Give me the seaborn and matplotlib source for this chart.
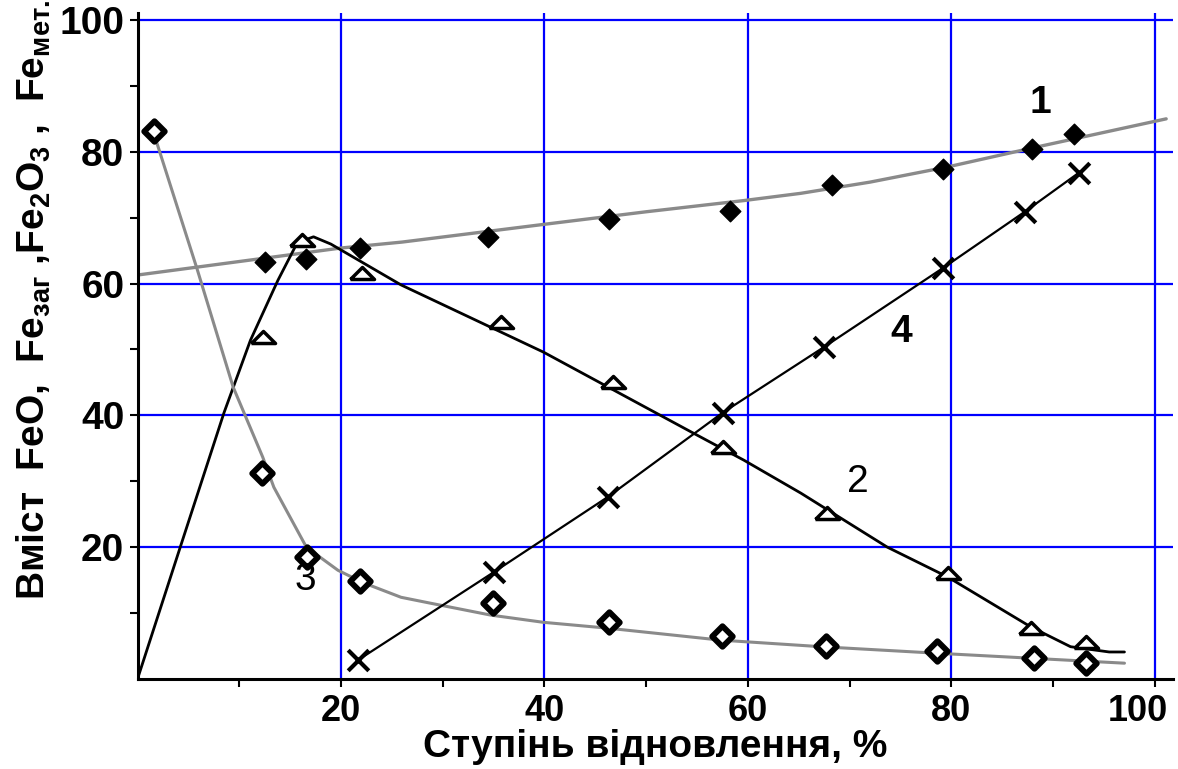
import matplotlib
matplotlib.use("Agg")
import matplotlib.pyplot as plt
import matplotlib.transforms as mtransforms
import seaborn as sns

# Curve 1 - Fe (filled diamonds, grey line)
pts1_x = [12.5, 16.6, 21.9, 34.4, 46.3, 58.2, 68.3, 79.2, 87.9, 92.0]
pts1_y = [63.3, 63.7, 65.4, 67.1, 69.8, 71.0, 75.0, 77.4, 80.4, 82.7]
line1_x = [0, 20, 26, 40, 50, 59.6, 65.2, 72, 79.6, 88, 101.1]
line1_y = [61.3, 65.4, 66.3, 69.0, 70.9, 72.6, 73.7, 75.4, 77.7, 80.6, 85.0]

# Curve 2 - FeO (open triangles, black line)
pts2_x = [12.3, 16.2, 22.1, 35.7, 46.7, 57.5, 67.8, 79.7, 87.8, 93.2]
pts2_y = [51.9, 66.6, 61.6, 54.2, 45.1, 35.2, 25.2, 16.1, 7.7, 5.6]
line2_x = [0, 4.2, 8.5, 11.1, 13.8, 15.7, 17.3, 19, 25.9, 39.9, 54.4, 59.6, 65.2, 73.7, 79.6, 87.8, 91.7, 95.5, 97]
line2_y = [0, 20, 40.4, 51.4, 60.5, 66.2, 67.1, 66.0, 59.8, 49.6, 37.5, 33.2, 28.2, 20, 15.5, 7.9, 4.9, 4.1, 4.1]

# Curve 3 - Fe2O3 (open diamonds, grey line)
pts3_x = [1.6, 12.2, 16.7, 21.9, 34.9, 46.3, 57.4, 67.7, 78.6, 88.1, 93.2]
pts3_y = [83.2, 31.3, 18.5, 14.9, 11.5, 8.6, 6.5, 5.0, 4.3, 3.2, 2.4]
line3_x = [1.5, 5.9, 9.4, 12.3, 13.4, 16.6, 19.7, 22.2, 25.9, 28.8, 34.7, 39.9, 46.3, 57.3, 67.2, 78.7, 97]
line3_y = [83.3, 62, 44.3, 33.7, 29.1, 20, 16.5, 14.6, 12.4, 11.5, 9.7, 8.6, 7.7, 5.9, 4.9, 3.9, 2.4]

# Curve 4 - Fe met. (crosses, black line)
pts4_x = [21.7, 35.0, 46.2, 57.5, 67.5, 79.2, 87.2, 92.5]
pts4_y = [2.9, 16.2, 27.6, 40.4, 50.4, 62.4, 70.9, 76.8]

curve_labels = ["1", "2", "3", "4"]
label_x = [88.7, 70.8, 16.5, 75.1]
label_y = [87.4, 29.9, 15.0, 52.7]
label_weight = ["bold", "normal", "normal", "bold"]

ticks = [20, 40, 60, 80, 100]
minor_ticks = [10, 30, 50, 70, 90]

sns.set_theme(style="white")
plt.rcParams["font.family"] = ["Liberation Sans", "DejaVu Sans"]
plt.rcParams["mathtext.fontset"] = "custom"
plt.rcParams["mathtext.rm"] = "Liberation Sans:bold"
plt.rcParams["mathtext.it"] = "Liberation Sans:bold"
plt.rcParams["mathtext.bf"] = "Liberation Sans:bold"

fig = plt.figure(figsize=(11.78, 7.69), dpi=100)
ax = fig.add_axes([137.5 / 1178, 90 / 769, 1035.8 / 1178, 665.6 / 769])

# lines
sns.lineplot(x=line1_x, y=line1_y, color="#8a8a8a", lw=2.4, sort=False, estimator=None, ax=ax)
sns.lineplot(x=line2_x, y=line2_y, color="black", lw=2.0, sort=False, estimator=None, ax=ax)
sns.lineplot(x=line3_x, y=line3_y, color="#8a8a8a", lw=2.2, sort=False, estimator=None, ax=ax)
sns.lineplot(x=pts4_x, y=pts4_y, color="black", lw=1.6, sort=False, estimator=None, ax=ax)

# markers
sns.scatterplot(x=pts1_x, y=pts1_y, marker="D", s=110, color="black",
                edgecolor="black", linewidth=1, zorder=4, ax=ax)
tri = [(-1, -0.5), (1, -0.5), (0, 0.5), (-1, -0.5)]
sns.scatterplot(x=pts2_x, y=pts2_y, marker=tri, s=300, facecolor="white",
                edgecolor="black", linewidth=2.5, zorder=4, ax=ax)
sns.scatterplot(x=pts3_x, y=pts3_y, marker="D", s=110, facecolor="white",
                edgecolor="black", linewidth=4.2, zorder=4, ax=ax)
sns.scatterplot(x=pts4_x, y=pts4_y, marker="x", s=220, color="black",
                linewidth=3, zorder=4, ax=ax)

for t, x, y, w in zip(curve_labels, label_x, label_y, label_weight):
    ax.text(x, y, t, fontsize=28, fontweight=w, ha="center", va="center",
            color="black", zorder=5)

ax.set_xlim(0, 101.8)
ax.set_ylim(0, 101)
ax.set_xticks(ticks)
ax.set_yticks(ticks)
ax.set_xticks(minor_ticks, minor=True)
ax.set_yticks(minor_ticks, minor=True)
ax.grid(True, which="major", color="#0000ff", lw=1.6)
ax.set_axisbelow(True)
ax.tick_params(axis="both", which="both", direction="out", length=6, width=1.5,
               color="black", labelcolor="black", bottom=True, left=True)
ax.tick_params(axis="x", which="major", pad=5)
for lab in ax.get_xticklabels():
    lab.set_fontsize(26)
    lab.set_fontweight("bold")
for lab in ax.get_yticklabels():
    lab.set_fontsize(28)
    lab.set_fontweight("bold")

# last x tick label sits a bit left of its tick in the reference
xlabs = ax.get_xticklabels()
shift = mtransforms.ScaledTranslation(-0.17, 0, fig.dpi_scale_trans)
xlabs[-1].set_transform(xlabs[-1].get_transform() + shift)

for side in ["top", "right"]:
    ax.spines[side].set_visible(False)
for side in ["left", "bottom"]:
    ax.spines[side].set_color("black")
    ax.spines[side].set_linewidth(2.2)

ax.set_xlabel("Ступінь відновлення, %", fontsize=28, fontweight="bold",
              color="black", labelpad=0)

ylab = r"Вміст  FeO,  Fe$_{\mathrm{заг}}$ ,Fe$_{2}$O$_{3}$ ,  Fe$_{\mathrm{мет.}}$"
fig.text(34 / 1178, 1 - 300 / 769, ylab, rotation=90, ha="center", va="center",
         fontsize=28, fontweight="bold", color="black")

fig.savefig("out.png", dpi=100)
